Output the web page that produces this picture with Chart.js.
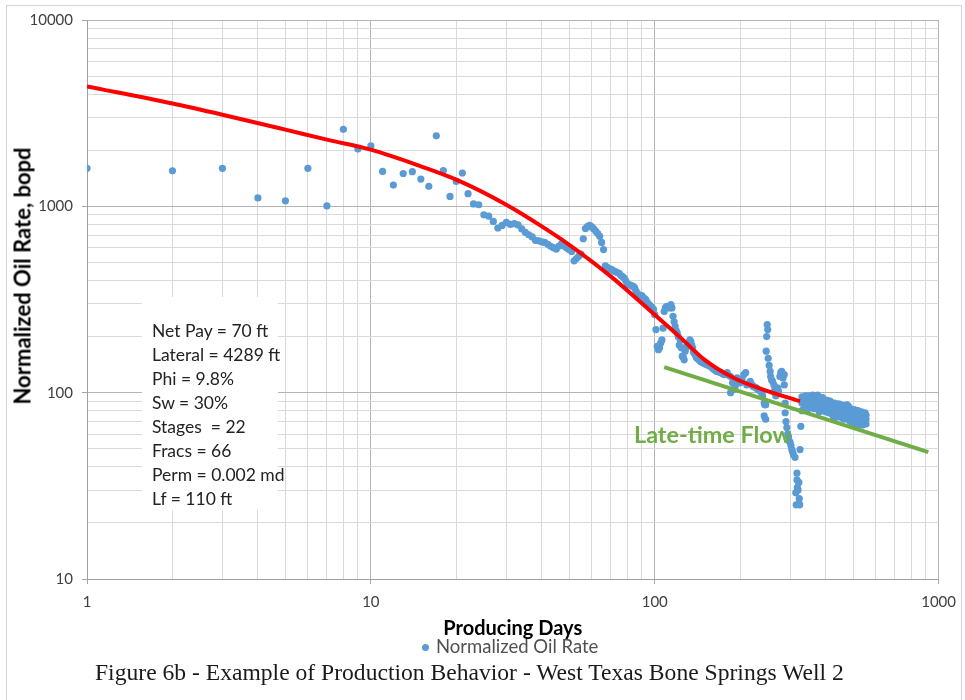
<!DOCTYPE html>
<html>
<head>
<meta charset="utf-8">
<script src="https://cdn.jsdelivr.net/npm/chart.js@4"></script>
<style>
  html, body { margin:0; padding:0; background:#fff; }
  #wrap { position:relative; width:965px; height:700px; overflow:hidden; }
  #frame { position:absolute; left:6px; top:5px; width:956px; height:720px; border:1px solid #d4d4d4; box-sizing:border-box; }
  canvas { position:absolute; left:0; top:0; }
  .ov { position:absolute; font-family: Lato, "Open Sans", sans-serif; white-space:nowrap; }
  #ytitle { left:22px; top:276px; font-size:22px; font-weight:bold; color:#000; transform:translate(-50%,-50%) rotate(-90deg); }
  #infobox { left:142px; top:297px; width:136px; height:213px; background:#fff; }
  #infotext { left:152px; top:319px; font-size:17.5px; line-height:24px; color:#222; }
  #late { left:634px; top:420px; font-size:23.4px; font-weight:bold; color:#70AD47; }
  #legend { left:422px; top:635px; font-size:18.5px; color:#505050; }
  #legend .dot { display:inline-block; width:7px; height:7px; border-radius:50%; background:#5B9BD5; margin-right:7px; vertical-align:middle; position:relative; top:-1px; }
  #caption { left:95px; top:659px; font-family:"Liberation Serif", "DejaVu Serif", serif; font-size:23.6px; color:#1a1a1a; }
</style>
</head>
<body>
<div id="wrap">
  <div id="frame"></div>
  <canvas id="c" width="965" height="700"></canvas>
  <div class="ov" id="ytitle">Normalized Oil Rate, bopd</div>
  <div class="ov" id="infobox"></div>
  <div class="ov" id="infotext">Net Pay = 70 ft<br>Lateral = 4289 ft<br>Phi = 9.8%<br>Sw = 30%<br>Stages&nbsp; = 22<br>Fracs = 66<br>Perm = 0.002 md<br>Lf = 110 ft</div>
  <div class="ov" id="late">Late-time Flow</div>
  <div class="ov" id="legend"><span class="dot"></span>Normalized Oil Rate</div>
  <div class="ov" id="caption">Figure 6b - Example of Production Behavior - West Texas Bone Springs Well 2</div>
</div>
<script>
// ---- Data ----
const scatterDays = [
  1,2,3,4,5,6,7,8,9,10,11,12,13,14,15,16,17,18,19,20,
  21,22,23,24,25,26,27,28,29,30,31,32,33,34,35,36,37,38,39,40,
  41,42,43,44,45,46,47,48,49,50,51,52,53,54,55,56,57,58,59,60,
  61,62,63,64,65,66,67,68,69,70,71,72,73,74,75,76,77,78,79,80,
  81,82,83,84,85,86,87,88,89,90,91,92,93,94,95,96,97,98,99,100,
  101,102,103,104,105,106,107,108,109,110,111,112,113,114,115,116,117,118,119,120,
  121,122,123,124,125,126,127,128,129,130,131,132,133,134,135,136,137,138,139,140,
  141,143,145,147,149,151,153,155,157,160,162,164,166,168,171,174,176,178,180,182,
  185,185,188,190,192,195,198,200,203,206,209,211,214,217,220,222,225,228,231,235,
  238,240,243,243,244,246,246,247,248,249,250,251,253,255,256,258,260,263,265,267,
  269,271,273,276,278,280,283,286,286,288,288,290,292,294,296,298,300,302,304,306,
  308,312,314,315,317,317,318,320,322,322,323,324,325,327,
  330,330,330,335,335,335,340,340,340,345,345,345,350,350,350,355,355,355,360,360,360,
  365,365,365,370,370,370,375,375,375,380,380,380,385,385,385,390,390,390,395,395,395,
  400,400,400,405,405,405,410,410,410,415,415,415,420,420,420,425,425,425,430,430,430,
  435,435,435,440,440,440,445,445,445,450,450,450,455,455,455,460,460,460,465,465,465,
  470,470,470,475,475,475,480,480,480,485,485,485,490,490,490,495,495,495,500,500,500,
  505,505,505,510,510,510,515,515,515,520,520,520,525,525,525,530,530,530,535,535,535,
  540,540,540,545,545,545,550,550,550,555,555,555
];
const scatterRates = [
  1600,1550,1600,1110,1070,1600,1005,2590,2030,2110,1540,1300,1500,1535,1400,1280,2390,1555,1130,1360,
  1510,1170,1030,1020,900,885,830,765,790,820,800,808,795,756,725,704,685,657,653,645,
  640,625,610,600,590,612,630,610,598,585,573,510,525,540,555,670,760,780,790,775,
  756,735,715,690,640,586,480,470,462,460,455,448,445,440,437,425,420,412,400,385,
  380,378,374,372,365,350,338,335,330,332,325,320,316,305,300,295,290,285,280,262,
  218,177,170,174,185,192,222,273,285,290,291,288,285,297,285,257,240,227,215,209,
  200,180,192,174,157,155,150,167,175,180,185,185,192,188,180,174,165,163,160,155,
  153,150,147,145,144,142,141,140,138,135,133,131,130,129,128,126,125,126,128,124,
  122,100,113,104,108,120,115,113,118,125,128,110,112,115,110,108,107,106,104,102,
  100,96,88,75,86,72,86,167,200,232,218,153,140,130,122,117,115,110,104,96,
  100,106,102,122,128,130,120,125,110,88,78,70,65,60,58,55,54,52,49.5,48,
  46.5,45,29,25,37,34,31,30,33,25.5,27,25,49.5,66,
  95,88,80,94,89,82,96,90,84,94,88,81,96,91,85,95,89,83,97,90,84,
  96,89,82,95,90,85,97,91,84,94,88,79,93,87,82,94,88,83,92,86,80,
  90,85,79,91,86,81,89,84,78,90,85,80,88,83,77,87,82,75,88,82,73,
  86,81,76,85,80,75,87,81,76,84,79,74,86,80,75,85,79,73,83,78,72,
  84,78,73,86,80,74,85,79,72,83,77,71,82,76,70,80,75,70,79,74,69,
  81,75,70,80,74,68,79,73,68,80,74,69,78,73,67,77,72,68,79,73,69,
  78,72,67,77,73,68,78,74,70,76,72,68
];
const fitDays  = [1, 2, 3, 5, 7, 10, 15, 20, 30, 40, 50, 70, 100, 123, 150, 190, 250, 325];
const fitRates = [4400, 3560, 3100, 2580, 2280, 2014, 1640, 1390, 1020, 781, 622, 421, 262, 198, 150, 120, 102, 90];
const lateDays  = [108, 920];
const lateRates = [137, 48];
const xTicks = [1,2,3,4,5,6,7,8,9,10,20,30,40,50,60,70,80,90,100,200,300,400,500,600,700,800,900,1000];
const yTicks = [10,20,30,40,50,60,70,80,90,100,200,300,400,500,600,700,800,900,1000,2000,3000,4000,5000,6000,7000,8000,9000,10000];
const xLabels = [1, 10, 100, 1000];
const yLabels = [10, 100, 1000, 10000];

const pts = (xs, ys) => xs.map((x, i) => ({ x: x, y: ys[i] }));
const isMajor = v => Math.abs(Math.log10(v) - Math.round(Math.log10(v))) < 1e-9;
const gridColor = ctx => (ctx.tick && isMajor(ctx.tick.value)) ? '#b4b4b4' : '#dadada';
const tickCol = ctx => (ctx.tick && isMajor(ctx.tick.value)) ? '#a8a8a8' : 'rgba(0,0,0,0)';
const FONT = 'Lato, "Open Sans", sans-serif';

new Chart(document.getElementById('c'), {
  type: 'scatter',
  data: {
    datasets: [
      { label: 'Normalized Oil Rate', data: pts(scatterDays, scatterRates), order: 3,
        pointRadius: 3.6, pointHoverRadius: 3.6, backgroundColor: '#5B9BD5', borderWidth: 0, showLine: false },
      { label: 'Model', data: pts(fitDays, fitRates), order: 2, showLine: true,
        borderColor: '#FF0000', borderWidth: 4, pointRadius: 0, cubicInterpolationMode: 'monotone', fill: false },
      { label: 'Late-time Flow', data: pts(lateDays, lateRates), order: 1, showLine: true,
        borderColor: '#70AD47', borderWidth: 4, pointRadius: 0, fill: false }
    ]
  },
  options: {
    responsive: false, animation: false, devicePixelRatio: 1,
    layout: { padding: { left: 8, right: 23, top: 20, bottom: 59 } },
    plugins: { legend: { display: false }, tooltip: { enabled: false } },
    scales: {
      x: {
        type: 'logarithmic', min: 1, max: 1000,
        afterBuildTicks: s => { s.ticks = xTicks.map(v => ({ value: v, major: isMajor(v) })); },
        afterFit: s => { s.height = 62; },
        ticks: { autoSkip: false, maxRotation: 0, padding: 9, color: '#404040', font: { family: FONT, size: 15 },
                 callback: v => xLabels.includes(v) ? String(v) : '' },
        grid: { color: gridColor, tickColor: tickCol, tickLength: 5, lineWidth: 1 },
        border: { color: '#a0a0a0' },
        title: { display: true, text: 'Producing Days', color: '#000', padding: { top: 0, bottom: 0 },
                 font: { family: FONT, size: 20, weight: 'bold' } }
      },
      y: {
        type: 'logarithmic', min: 10, max: 10000,
        afterBuildTicks: s => { s.ticks = yTicks.map(v => ({ value: v, major: isMajor(v) })); },
        afterFit: s => { s.width = 79; },
        ticks: { autoSkip: false, padding: 9, color: '#404040', font: { family: FONT, size: 15 },
                 callback: v => yLabels.includes(v) ? String(v) : '' },
        grid: { color: gridColor, tickColor: tickCol, tickLength: 5, lineWidth: 1 },
        border: { color: '#a0a0a0' },
        title: { display: false }
      }
    }
  }
});
</script>
</body>
</html>
